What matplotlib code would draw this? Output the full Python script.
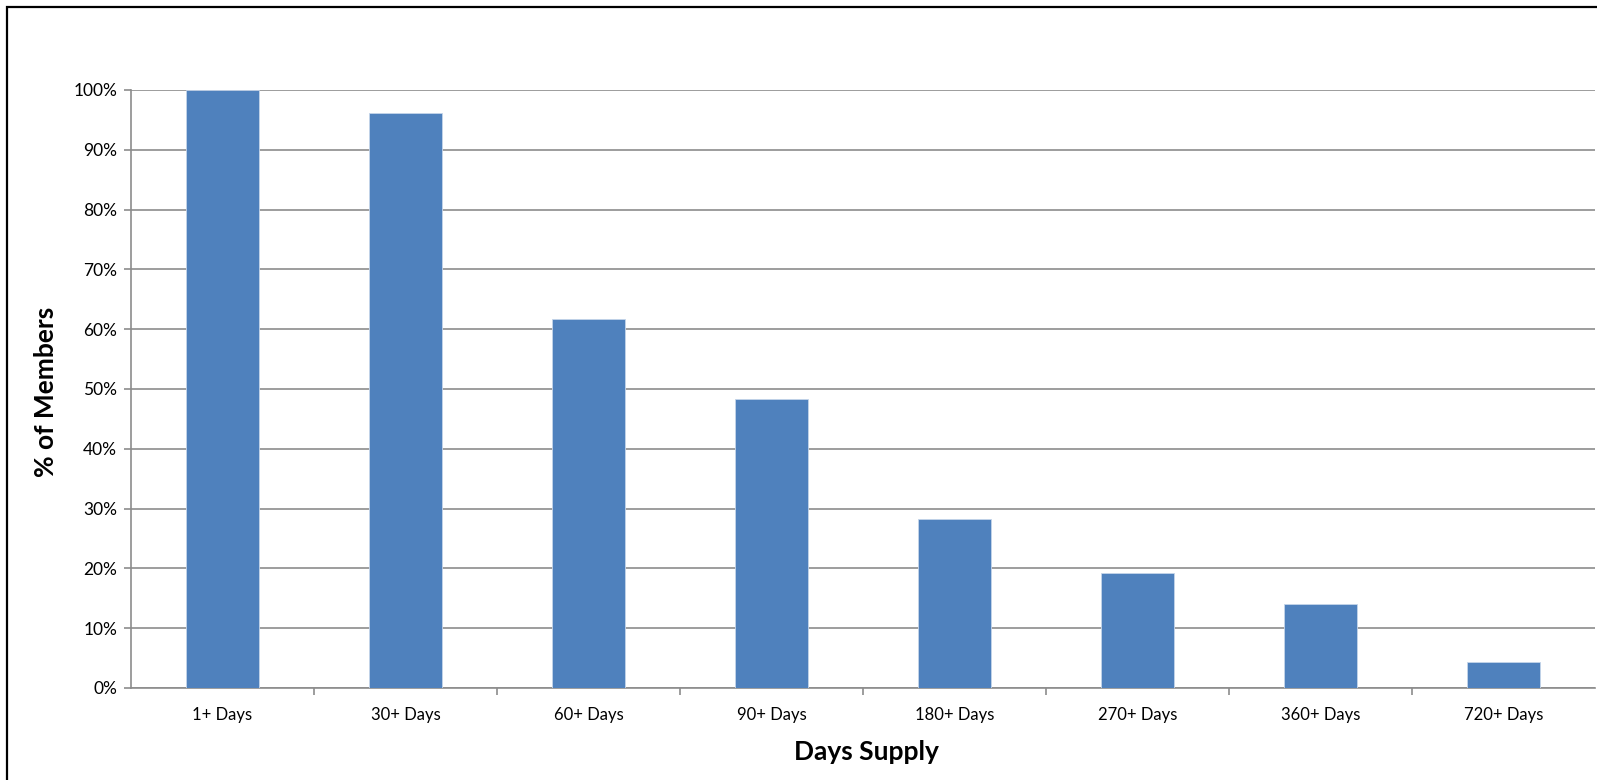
import numpy as np
import matplotlib
matplotlib.use('Agg')
import matplotlib.pyplot as plt
from matplotlib.patches import Rectangle
from matplotlib.ticker import FixedLocator

categories = ['1+ Days', '30+ Days', '60+ Days', '90+ Days',
              '180+ Days', '270+ Days', '360+ Days', '720+ Days']
members_pct = [100.0, 96.2, 61.7, 48.3, 28.3, 19.3, 14.1, 4.4]
y_ticks = [0, 10, 20, 30, 40, 50, 60, 70, 80, 90, 100]

plt.rcParams['font.family'] = ['Lato', 'DejaVu Sans']

fig = plt.figure(figsize=(15.97, 7.80), dpi=100)
ax = fig.add_axes([131 / 1597, 1 - 688 / 780, 1464 / 1597, (688 - 90) / 780])

x = np.arange(len(categories))
ax.bar(x, members_pct, width=0.4, color='#4F81BD', edgecolor='#C5D5EA',
       linewidth=0.6, zorder=3)

ax.set_xlim(-0.5, len(categories) - 0.5)
ax.set_ylim(0, 100)
ax.set_yticks(y_ticks)
ax.set_yticklabels(['%d%%' % v for v in y_ticks])
ax.yaxis.grid(True, color='#8C8C8C', linewidth=1.2, zorder=0)

ax.set_xticks(x)
ax.set_xticklabels(categories)
ax.xaxis.set_minor_locator(FixedLocator(np.arange(0.5, len(categories) - 0.5, 1)))
ax.tick_params(axis='x', which='major', length=0, pad=14, labelsize=12)
ax.tick_params(axis='x', which='minor', length=5, width=1.2, color='#8C8C8C',
               direction='out')
ax.tick_params(axis='y', length=5, width=1.2, color='#8C8C8C', pad=5,
               labelsize=12.5)

for side in ['top', 'right']:
    ax.spines[side].set_visible(False)
for side in ['left', 'bottom']:
    ax.spines[side].set_color('#8C8C8C')
    ax.spines[side].set_linewidth(1.2)

fig.text(866 / 1597, 1 - 752 / 780, 'Days Supply', ha='center', va='center',
         fontsize=19, fontweight='bold')
fig.text(46 / 1597, 1 - 392 / 780, '% of Members', ha='center', va='center',
         rotation=90, fontsize=19, fontweight='bold')

# outer frame, cut off at right and bottom like the original
fig.patches.append(Rectangle((7 / 1597, -0.1), 1.2, 1.1 - 7 / 780,
                             transform=fig.transFigure, fill=False,
                             edgecolor='black', linewidth=1.6))

fig.savefig('out.png', dpi=100)
